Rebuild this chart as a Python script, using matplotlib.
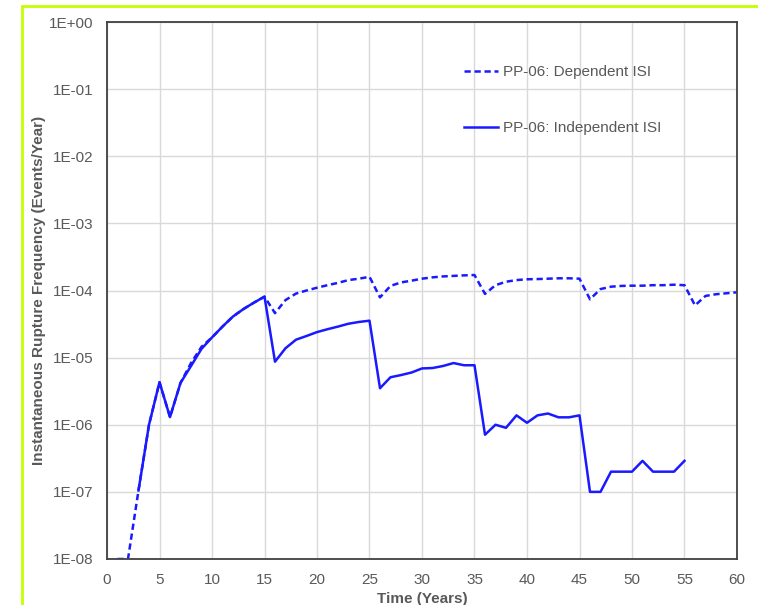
import math
import matplotlib.pyplot as plt
from matplotlib.patches import Rectangle
from matplotlib.ticker import FixedLocator, FuncFormatter

plt.rcParams['font.family'] = ['Liberation Sans', 'DejaVu Sans']

# Dependent ISI (dashed), years 1..60
years_dep = list(range(1, 61))
dependent = [1e-08, 1e-08, 1.05e-07, 1.0e-06, 4.3e-06, 1.3e-06, 4.2e-06, 8.3e-06, 1.45e-05, 2.0e-05,
             2.9e-05, 4.1e-05, 5.3e-05, 6.6e-05, 8.1e-05, 4.6e-05, 7.2e-05, 9.0e-05, 1.0e-04, 1.1e-04,
             1.2e-04, 1.3e-04, 1.43e-04, 1.5e-04, 1.6e-04, 7.9e-05, 1.17e-04, 1.32e-04, 1.4e-04, 1.5e-04,
             1.57e-04, 1.62e-04, 1.65e-04, 1.68e-04, 1.7e-04, 8.9e-05, 1.2e-04, 1.35e-04, 1.43e-04, 1.47e-04,
             1.48e-04, 1.5e-04, 1.52e-04, 1.52e-04, 1.5e-04, 7.4e-05, 1.05e-04, 1.14e-04, 1.17e-04, 1.18e-04,
             1.18e-04, 1.2e-04, 1.2e-04, 1.22e-04, 1.2e-04, 6.0e-05, 8.3e-05, 8.8e-05, 9.1e-05, 9.4e-05]

# Independent ISI (solid), years 3..55
years_ind = list(range(3, 56))
independent = [1.05e-07, 1.0e-06, 4.3e-06, 1.3e-06, 4.2e-06, 7.5e-06, 1.35e-05, 2.0e-05,
               2.9e-05, 4.1e-05, 5.3e-05, 6.6e-05, 8.1e-05, 8.7e-06, 1.38e-05, 1.85e-05, 2.1e-05, 2.4e-05,
               2.65e-05, 2.9e-05, 3.2e-05, 3.4e-05, 3.55e-05, 3.5e-06, 5.1e-06, 5.5e-06, 6.0e-06, 6.9e-06,
               7.0e-06, 7.5e-06, 8.3e-06, 7.7e-06, 7.7e-06, 7.1e-07, 1.0e-06, 9.0e-07, 1.38e-06, 1.07e-06,
               1.38e-06, 1.47e-06, 1.29e-06, 1.29e-06, 1.38e-06, 1.0e-07, 1.0e-07, 2.0e-07, 2.0e-07, 2.0e-07,
               2.9e-07, 2.0e-07, 2.0e-07, 2.0e-07, 2.9e-07]

x_ticks = list(range(0, 61, 5))
y_ticks = [1e-08, 1e-07, 1e-06, 1e-05, 1e-04, 1e-03, 1e-02, 1e-01, 1e+00]

fig = plt.figure(figsize=(7.58, 6.05), dpi=100)
ax = fig.add_axes([107 / 758, 1 - 559 / 605, 630 / 758, 537 / 605])

blue = '#1a1aff'
ax.plot(years_dep, dependent, color=blue, lw=1.8, dashes=(2.5, 1.5), label='PP-06: Dependent ISI')
ax.plot(years_ind, independent, color=blue, lw=1.8, label='PP-06: Independent ISI')

ax.set_yscale('log')
ax.set_xlim(0, 60)
ax.set_ylim(1e-08, 1e+00)
ax.xaxis.set_major_locator(FixedLocator(x_ticks))
ax.yaxis.set_major_locator(FixedLocator(y_ticks))
ax.yaxis.set_minor_locator(FixedLocator([]))
ax.yaxis.set_major_formatter(FuncFormatter(lambda v, p: '1E%+03d' % round(math.log10(v))))

gray = '#595959'
ax.tick_params(length=0, labelsize=11, labelcolor=gray)
ax.tick_params(axis='x', pad=10)
ax.tick_params(axis='y', pad=10)
ax.grid(True, color='#d9d9d9', lw=1)
ax.set_axisbelow(True)
for s in ax.spines.values():
    s.set_color('#404040')
    s.set_linewidth(1.3)

ax.set_xlabel('Time (Years)', fontsize=11, fontweight='bold', color=gray, labelpad=3.5)
ax.set_ylabel('Instantaneous Rupture Frequency (Events/Year)', fontsize=11, fontweight='bold',
              color=gray, labelpad=2)

leg = ax.legend(loc='upper left', bbox_to_anchor=(0.555, 0.934), frameon=False, fontsize=11,
                labelspacing=2.75, handlelength=2.2, handletextpad=0.35, borderpad=0)
for t in leg.get_texts():
    t.set_color(gray)

# lime outline around the chart area
fig.patches.append(Rectangle((22 / 758, -0.1), 1.2, 1 - 6 / 605 + 0.1, transform=fig.transFigure,
                             fill=False, edgecolor='#c4ff00', lw=2))

fig.savefig('out.png', dpi=100)
